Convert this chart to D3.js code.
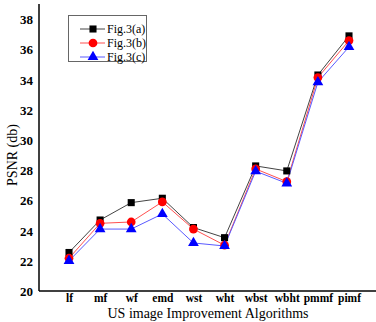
<!DOCTYPE html>
<html><head><meta charset="utf-8">
<script src="https://cdn.jsdelivr.net/npm/d3@7"></script>
<style>body{margin:0;background:#fff}svg{display:block}
svg text{font-family:"Liberation Serif","Times New Roman",serif !important;}</style>
</head><body><svg id="c" width="376" height="322"></svg>
<script>
const categories = ["lf","mf","wf","emd","wst","wht","wbst","wbht","pmmf","pimf"];
const seriesA = [22.55, 24.7, 25.85, 26.14, 24.2, 23.53, 28.28, 27.95, 34.3, 36.89];
const seriesB = [22.17, 24.48, 24.57, 25.9, 24.1, 23.03, 28.08, 27.24, 34.13, 36.58];
const seriesC = [22.0, 24.1, 24.1, 25.1, 23.18, 22.98, 27.93, 27.13, 33.82, 36.16];
const yTicks = [20,22,24,26,28,30,32,34,36,38];
const seriesNames = ["Fig.3(a)","Fig.3(b)","Fig.3(c)"];

const svg = d3.select("#c");
const x = d3.scalePoint().domain(categories).range([69, 349]);
const y = d3.scaleLinear().domain([20, 39]).range([291, 4]);

// axes
const yAxis = svg.append("g").attr("transform","translate(39,0)")
  .call(d3.axisLeft(y).tickValues(yTicks).tickSize(0).tickPadding(6));
yAxis.select(".domain").attr("stroke","#000").attr("stroke-width",1.5).attr("d","M0,4V291");
yAxis.selectAll("text").attr("font-size",13).attr("font-weight","bold").attr("fill","#000").attr("dy","0.35em");

const xAxis = svg.append("g").attr("transform","translate(0,291)")
  .call(d3.axisBottom(x).tickSize(0).tickPadding(3));
xAxis.select(".domain").attr("stroke","#000").attr("stroke-width",1.5).attr("d","M39,0H376");
xAxis.selectAll("text").attr("font-size",11.5).attr("font-weight","bold").attr("fill","#000");

svg.append("text").attr("x",208).attr("y",318).attr("text-anchor","middle")
  .attr("font-size",14).text("US image Improvement Algorithms");
svg.append("text").attr("transform","translate(17,155) rotate(-90)").attr("text-anchor","middle")
  .attr("font-size",14).text("PSNR (db)");

const series = [
  {name: seriesNames[0], vals: seriesA, color:"#000", line:"#444", shape: d3.symbolSquare, size: 50},
  {name: seriesNames[1], vals: seriesB, color:"#ff0000", line:"#ff5050", shape: d3.symbolCircle, size: 60},
  {name: seriesNames[2], vals: seriesC, color:"#0000ff", line:"#5a5aff", shape: d3.symbolTriangle, size: 50}
];
const line = d3.line().x((d,i)=>x(categories[i])).y(d=>y(d));
series.forEach(s=>{
  svg.append("path").attr("d",line(s.vals)).attr("fill","none").attr("stroke",s.line).attr("stroke-width",1);
});
series.forEach(s=>{
  svg.append("g").selectAll("path").data(s.vals).join("path")
    .attr("transform",(d,i)=>`translate(${x(categories[i])},${y(d)})`)
    .attr("d", d3.symbol().type(s.shape).size(s.size)).attr("fill", s.color);
});

// legend
const lg = svg.append("g");
lg.append("rect").attr("x",68.5).attr("y",15.5).attr("width",78).attr("height",46)
  .attr("fill","#fff").attr("stroke","#666").attr("stroke-width",1);
series.forEach((s,i)=>{
  const yy = 29 + i*14;
  lg.append("line").attr("x1",80).attr("x2",105).attr("y1",yy).attr("y2",yy).attr("stroke",s.line).attr("stroke-width",1);
  lg.append("path").attr("transform",`translate(93,${yy})`).attr("d",d3.symbol().type(s.shape).size(s.size)).attr("fill",s.color);
  lg.append("text").attr("x",107).attr("y",yy).attr("dy","0.35em").attr("font-size",12).text(s.name);
});
</script></body></html>
